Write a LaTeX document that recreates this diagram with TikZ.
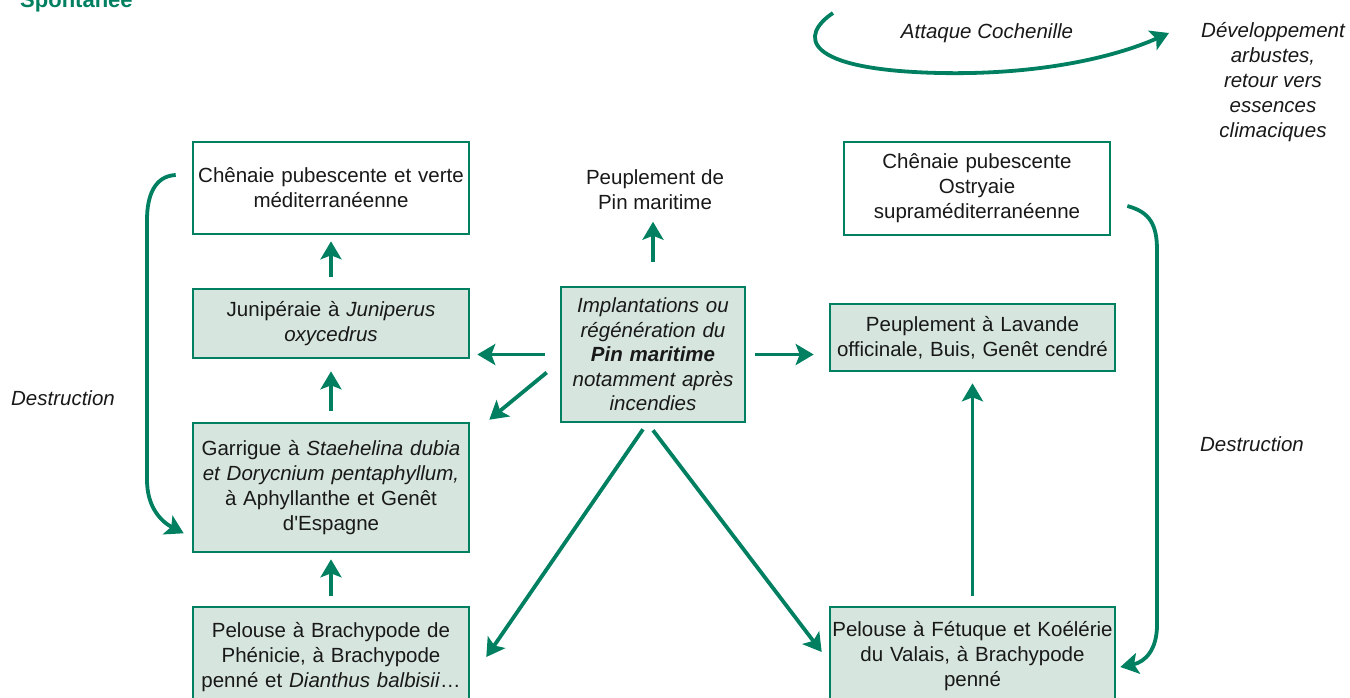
\documentclass[tikz,border=0pt]{standalone}
\usepackage{fontspec}
\setmainfont{Liberation Sans}[Ligatures=TeXOff]
\usetikzlibrary{arrows.meta}
\definecolor{grn}{RGB}{0,128,96}
\definecolor{boxfill}{RGB}{214,229,221}
\definecolor{txt}{RGB}{25,25,25}
\begin{document}
\begin{tikzpicture}[x=1pt,y=-1pt,
  font=\fontsize{20.5}{25}\selectfont, text=txt,
  plain/.style={draw=grn, line width=2.6pt, fill=white, inner sep=0pt, align=center},
  shaded/.style={plain, fill=boxfill},
  arr/.style={draw=grn, line width=3.8pt, -{Stealth[length=18pt,width=21pt,inset=4pt]}},
  lbl/.style={align=center, inner sep=0pt, font=\fontsize{20.5}{25}\selectfont\itshape}]
\path[use as bounding box] (0,0) rectangle (1350,697);
\clip (0,0) rectangle (1350,697);

% left column
\node[plain, text width=276pt, minimum height=92pt] (chl) at (331,188) {Chênaie pubescente et verte\\méditerranéenne};
\node[shaded, text width=276pt, minimum height=69pt] (jun) at (331,323.5) {Junipéraie à \textit{Juniperus}\\\textit{oxycedrus}};
\node[shaded, text width=276pt, minimum height=129pt] (garr) at (331,487.5) {Garrigue à \textit{Staehelina dubia}\\\textit{et Dorycnium pentaphyllum,}\\à Aphyllanthe et Genêt\\d'Espagne};
\node[shaded, text width=276pt, minimum height=100pt] (pell) at (331,657) {Pelouse à Brachypode de\\Phénicie, à Brachypode\\penné et \textit{Dianthus balbisii}…};

% centre
\node[shaded, text width=184pt, minimum height=135pt, font=\fontsize{20.5}{24.5}\selectfont\itshape] (c) at (653,354.5) {Implantations ou\\régénération du\\\textbf{Pin maritime}\\notamment après\\incendies};
\node[align=center, inner sep=0pt] (pin) at (655,189.5) {Peuplement de\\Pin maritime};

% right column
\node[plain, text width=266pt, minimum height=93pt] (chr) at (977,188.5) {Chênaie pubescente\\Ostryaie\\supraméditerranéenne};
\node[shaded, text width=285pt, minimum height=67pt] (lav) at (972.5,337.5) {Peuplement à Lavande\\officinale, Buis, Genêt cendré};
\node[shaded, text width=285pt, minimum height=98pt] (pelr) at (972.5,656) {Pelouse à Fétuque et Koélérie\\du Valais, à Brachypode\\penné};

% labels
\node[lbl] (att) at (987,33) {Attaque Cochenille};
\node[lbl] (dev) at (1273,82.5) {Développement\\arbustes,\\retour vers\\essences\\climaciques};
\node[lbl] (dl) at (63,398) {Destruction};
\node[lbl] (dr) at (1252,444) {Destruction};
\node[anchor=base west, inner sep=0pt, text=grn, font=\fontsize{22}{26}\selectfont\bfseries] (spont) at (20,7) {Spontanée};

% left column arrows
\draw[arr, shorten <=11pt, shorten >=6pt] (jun.north) -- (chl.south);
\draw[arr, shorten <=11pt, shorten >=12pt] (garr.north) -- (jun.south);
\draw[arr, shorten <=10pt, shorten >=6pt] (pell.north) -- (garr.south);

% centre arrows
\draw[arr, shorten <=24pt, shorten >=12pt] (c.north) -- (c.north |- pin.south);
\draw[arr, shorten <=15pt, shorten >=7pt] (c.west) -- (c.west -| jun.east);
\draw[arr] ([shift={(-13,18)}]c.west) -- ([shift={(19,-2)}]garr.north east);
\draw[arr, shorten <=9pt, shorten >=15pt] (c.east) -- (c.east -| lav.west);
\draw[arr] ([shift={(-10,6)}]c.south) -- ([shift={(16,0)}]pell.east);
\draw[arr] ([shift={(0,7)}]c.south) -- ([shift={(-7,-4)}]pelr.west);

% right column arrow
\draw[arr, shorten <=10pt, shorten >=11pt] (pelr.north) -- (lav.south);

% destruction loops
\draw[arr] ([shift={(-16,-13)}]chl.west) .. controls (155,176) and (147,195) .. (147,220) -- (147,480) .. controls (147,508) and (162,522) .. ([shift={(-8,-20)}]garr.south west);
\draw[arr] ([shift={(16,17.5)}]chr.east) .. controls (1150,212) and (1157,225) .. (1157,250) -- (1157,625) .. controls (1157,650) and (1145,662) .. ([shift={(4,11)}]pelr.east);

% cochenille arrow
\coordinate (ts) at (833,13);
\coordinate (te) at (1169,33);
\draw[arr] (ts) .. controls (800,35) and (800,70) .. (940,73) .. controls (1040,75) and (1115,57) .. (te);
\end{tikzpicture}
\end{document}
